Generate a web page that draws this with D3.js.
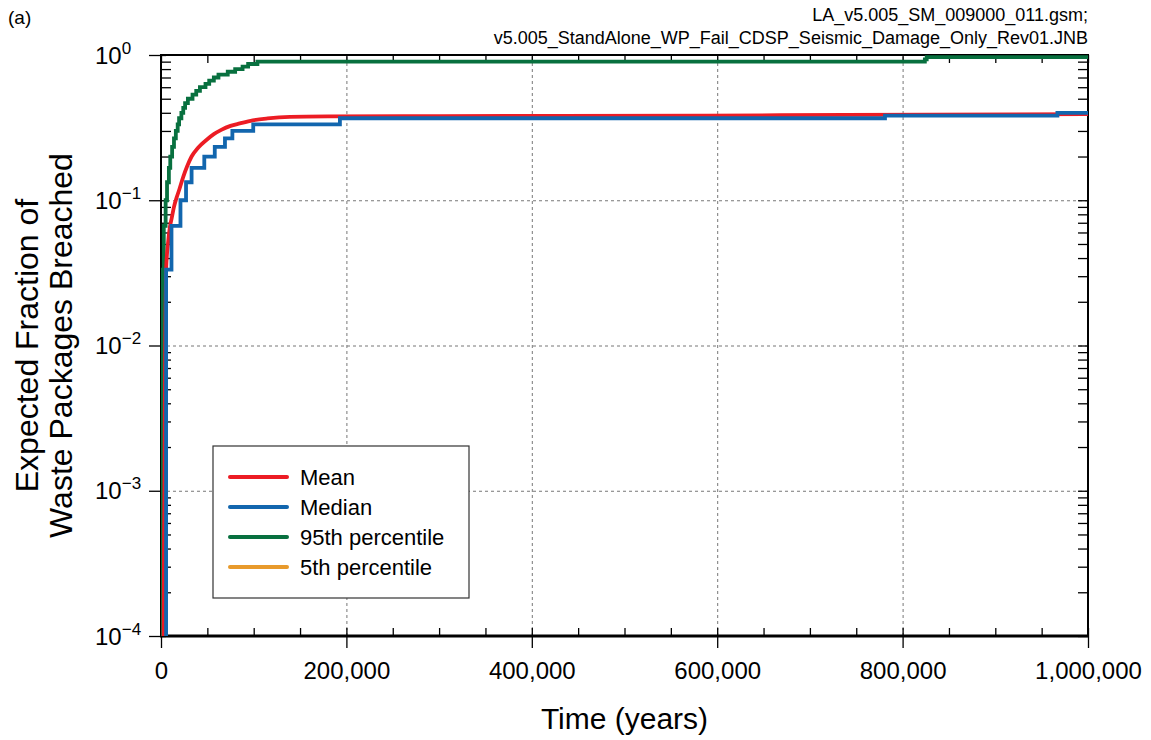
<!DOCTYPE html>
<html>
<head>
<meta charset="utf-8">
<script src="https://cdn.jsdelivr.net/npm/d3@7"></script>
<style>
  html, body { margin: 0; padding: 0; background: #fff; }
  svg { display: block; font-family: "Liberation Sans", Arial, sans-serif; }
</style>
</head>
<body>
<svg id="chart" width="1151" height="740"></svg>
<script>
// ---------- data (time in years, fraction of waste packages breached) ----------
const seriesNames = ["Mean", "Median", "95th percentile", "5th percentile"];
const seriesColors = ["#ec1c24", "#1266ae", "#08703f", "#e89a2c"];

const meanTimes  = [2800, 3300, 3700, 4100, 4500, 5000, 5500, 7500, 9500, 11500, 14000, 17000, 20000, 24000, 28000, 33000, 40000, 49000, 57000, 65000, 75000, 85000, 99000, 115000, 139000, 180000, 300000, 589000, 738000, 1000000];
const meanValues = [0.0001, 0.0005, 0.001, 0.004, 0.01, 0.02, 0.033, 0.05, 0.065, 0.075, 0.09, 0.105, 0.12, 0.145, 0.17, 0.2, 0.23, 0.26, 0.285, 0.305, 0.325, 0.338, 0.355, 0.366, 0.375, 0.378, 0.38, 0.383, 0.387, 0.392];

const medianTimes  = [0, 5500, 11300, 21000, 27000, 33000, 46700, 58000, 69000, 77000, 99500, 193000, 781000, 967000, 1000000];
const medianValues = [0, 0.0333, 0.0667, 0.1, 0.133, 0.167, 0.2, 0.233, 0.267, 0.3, 0.333, 0.367, 0.383, 0.4, 0.4];

const p95Times  = [0, 2000, 3000, 5000, 6500, 8500, 10000, 12000, 14000, 16000, 18000, 19500, 22000, 24000, 26000, 29000, 34000, 38000, 42000, 48000, 52000, 57000, 62000, 72000, 80000, 88000, 94000, 104000, 824000, 826000, 1000000];
const p95Values = [0, 0.0333, 0.0667, 0.1, 0.133, 0.167, 0.2, 0.233, 0.267, 0.3, 0.333, 0.367, 0.4, 0.433, 0.467, 0.5, 0.533, 0.567, 0.6, 0.633, 0.667, 0.7, 0.733, 0.767, 0.8, 0.833, 0.867, 0.9, 0.933, 0.967, 0.967];

const p5Times  = [0, 1000000];
const p5Values = [0, 0];

const xMajorTicks = [0, 200000, 400000, 600000, 800000, 1000000];
const xMinorStep = 50000;
const yMajorTicks = [1e-4, 1e-3, 1e-2, 1e-1, 1];
const yTickExponents = ["−4", "−3", "−2", "−1", "0"];

const titleLines = ["LA_v5.005_SM_009000_011.gsm;", "v5.005_StandAlone_WP_Fail_CDSP_Seismic_Damage_Only_Rev01.JNB"];

// ---------- layout ----------
const svg = d3.select("#chart");
const L = 161, R = 1088, T = 55, B = 636;

const x = d3.scaleLinear().domain([0, 1000000]).range([L, R]);
const y = d3.scaleLog().domain([1e-4, 1]).range([B, T]);
const yv = v => v > 0 ? y(v) : B + 40; // zero values fall below the visible range (clipped)

const xAll = d3.range(0, 1000000 + 1, xMinorStep);
const yMinor = [];
[1e-4, 1e-3, 1e-2, 1e-1].forEach(d => { for (let k = 2; k <= 9; k++) yMinor.push(d * k); });

// clip
svg.append("defs").append("clipPath").attr("id", "plotclip")
  .append("rect").attr("x", L).attr("y", T).attr("width", R - L).attr("height", B - T);

// grid
const grid = svg.append("g");
grid.append("g").attr("transform", `translate(0,${B})`)
  .call(d3.axisBottom(x).tickValues(xMajorTicks.slice(1, -1)).tickSize(-(B - T)).tickFormat(""))
  .call(g => g.select(".domain").remove())
  .selectAll("line").attr("stroke", "#777").attr("stroke-width", 1).attr("stroke-dasharray", "3,3");
grid.append("g").attr("transform", `translate(${L},0)`)
  .call(d3.axisLeft(y).tickValues(yMajorTicks.slice(1, -1)).tickSize(-(R - L)).tickFormat(""))
  .call(g => g.select(".domain").remove())
  .selectAll("line").attr("stroke", "#777").attr("stroke-width", 1).attr("stroke-dasharray", "3,3");

// axes ticks
function styleAxis(g) {
  g.select(".domain").remove();
  g.selectAll("line").attr("stroke", "#000").attr("stroke-width", 1.3);
}
// bottom: major outward with labels
const xAxisG = svg.append("g").attr("transform", `translate(0,${B})`)
  .call(d3.axisBottom(x).tickValues(xMajorTicks).tickSize(12).tickPadding(14).tickFormat(d3.format(",")))
  .call(styleAxis);
xAxisG.selectAll("text").attr("font-size", 24).attr("fill", "#000")
  .attr("font-family", "'Liberation Sans', Arial, sans-serif");
// bottom inward
svg.append("g").attr("transform", `translate(0,${B})`)
  .call(d3.axisBottom(x).tickValues(xAll).tickSize(-8).tickFormat("")).call(styleAxis);
// top inward
svg.append("g").attr("transform", `translate(0,${T})`)
  .call(d3.axisTop(x).tickValues(xAll).tickSize(-8).tickFormat("")).call(styleAxis);
// left major outward
const yAxisG = svg.append("g").attr("transform", `translate(${L},0)`)
  .call(d3.axisLeft(y).tickValues(yMajorTicks).tickSize(12).tickFormat(""))
  .call(styleAxis);
// left inward
svg.append("g").attr("transform", `translate(${L},0)`)
  .call(d3.axisLeft(y).tickValues(yMinor).tickSize(-10).tickFormat("")).call(styleAxis);
svg.append("g").attr("transform", `translate(${L},0)`)
  .call(d3.axisLeft(y).tickValues(yMajorTicks).tickSize(-5).tickFormat("")).call(styleAxis);
// right inward
svg.append("g").attr("transform", `translate(${R},0)`)
  .call(d3.axisRight(y).tickValues(yMinor.concat(yMajorTicks)).tickSize(-10).tickFormat("")).call(styleAxis);

// y tick labels (10^n)
yAxisG.selectAll(".tick").each(function(d, i) {
  const t = d3.select(this).append("text")
    .attr("x", 95 - L).attr("y", 8).attr("text-anchor", "start")
    .attr("fill", "#000").attr("font-size", 24);
  t.append("tspan").text("10");
  t.append("tspan").attr("dy", -10).attr("font-size", 17).text(yTickExponents[yMajorTicks.indexOf(d)]);
});

// frame
svg.append("rect").attr("x", L).attr("y", T).attr("width", R - L).attr("height", B - T)
  .attr("fill", "none").attr("stroke", "#000").attr("stroke-width", 2);
svg.append("line").attr("x1", L - 1).attr("x2", R + 1).attr("y1", B).attr("y2", B)
  .attr("stroke", "#000").attr("stroke-width", 3);

// series
const allSeries = [
  { name: seriesNames[0], color: seriesColors[0], pts: meanTimes.map((t, i) => [t, meanValues[i]]), curve: d3.curveMonotoneX },
  { name: seriesNames[1], color: seriesColors[1], pts: medianTimes.map((t, i) => [t, medianValues[i]]), curve: d3.curveStepAfter },
  { name: seriesNames[2], color: seriesColors[2], pts: p95Times.map((t, i) => [t, p95Values[i]]), curve: d3.curveStepAfter },
  { name: seriesNames[3], color: seriesColors[3], pts: p5Times.map((t, i) => [t, p5Values[i]]), curve: d3.curveStepAfter }
];
const plotG = svg.append("g").attr("clip-path", "url(#plotclip)");
const drawOrder = [2, 0, 1, 3];
drawOrder.forEach(idx => {
  const s = allSeries[idx];
  const visible = s.pts.some(p => p[1] > 0);
  if (!visible) return; // all values below plotted range
  const line = d3.line().x(p => x(p[0])).y(p => yv(p[1])).curve(s.curve);
  plotG.append("path").attr("d", line(s.pts))
    .attr("fill", "none").attr("stroke", s.color).attr("stroke-width", 3.8)
    .attr("stroke-linejoin", "miter");
});

// legend
const lg = svg.append("g");
lg.append("rect").attr("x", 213).attr("y", 446).attr("width", 256).attr("height", 152)
  .attr("fill", "#fff").attr("stroke", "#333").attr("stroke-width", 1.2);
allSeries.forEach((s, i) => {
  const yy = 477 + i * 30;
  lg.append("line").attr("x1", 230).attr("x2", 287).attr("y1", yy).attr("y2", yy)
    .attr("stroke", s.color).attr("stroke-width", 4).attr("stroke-linecap", "round");
  lg.append("text").attr("x", 300).attr("y", yy + 8).attr("font-size", 22).attr("fill", "#000").text(s.name);
});

// titles
svg.append("text").attr("x", 8).attr("y", 24).attr("font-size", 19).attr("fill", "#000").text("(a)");
titleLines.forEach((t, i) => {
  svg.append("text").attr("x", R).attr("y", 21 + i * 23).attr("text-anchor", "end")
    .attr("font-size", 18).attr("fill", "#000").text(t);
});
svg.append("text").attr("x", (L + R) / 2).attr("y", 729).attr("text-anchor", "middle")
  .attr("font-size", 30).attr("fill", "#000").text("Time (years)");
const ylab = svg.append("text").attr("transform", `translate(0,${(T + B) / 2}) rotate(-90)`)
  .attr("text-anchor", "middle").attr("font-size", 32).attr("fill", "#000");
ylab.append("tspan").attr("x", 0).attr("y", 38).text("Expected Fraction of");
ylab.append("tspan").attr("x", 0).attr("y", 72).text("Waste Packages Breached");
</script>
</body>
</html>
